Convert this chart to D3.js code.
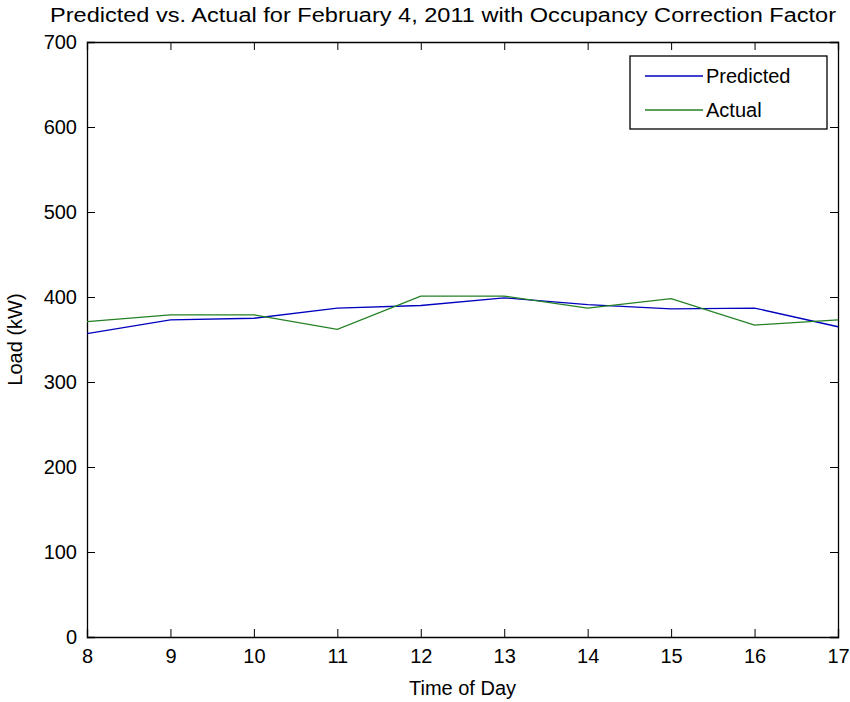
<!DOCTYPE html>
<html>
<head>
<meta charset="utf-8">
<script src="https://cdn.jsdelivr.net/npm/d3@7"></script>
<style>
  body { margin: 0; background: #fff; }
  text { font-family: "Liberation Sans Narrow", "Liberation Sans", Arial, sans-serif; fill: #000; }
  .axis path, .axis line { stroke: #000; }
</style>
</head>
<body>
<svg id="chart" width="850" height="702"></svg>
<script>
// hours of the day
var hours = [8, 9, 10, 11, 12, 13, 14, 15, 16, 17];
// load values in kW
var predicted = [357, 373, 375, 387, 390, 399, 391, 386, 387, 365];
var actual = [371, 379, 379, 362, 401, 401, 387, 398, 367, 373];
var yTicks = [0, 100, 200, 300, 400, 500, 600, 700];
var seriesNames = ["Predicted", "Actual"];
var seriesColors = ["#0000bf", "#238023"];

var svg = d3.select("#chart"),
    margin = { top: 42, right: 12, bottom: 65, left: 87 },
    width = +svg.attr("width") - margin.left - margin.right,
    height = +svg.attr("height") - margin.top - margin.bottom,
    g = svg.append("g").attr("transform", "translate(" + margin.left + "," + margin.top + ")");

var x = d3.scaleLinear().domain([8, 17]).range([0, width]);
var y = d3.scaleLinear().domain([0, 700]).range([height, 0]);

// axes, ticks pointing inward like matlab
g.append("g")
    .attr("class", "axis")
    .attr("transform", "translate(0," + height + ")")
    .call(d3.axisBottom(x).tickValues(hours).tickSize(-8).tickPadding(12).tickFormat(d3.format("d")))
    .call(function (a) { a.selectAll("text").style("font-size", "20px"); });

g.append("g")
    .attr("class", "axis")
    .call(d3.axisTop(x).tickValues(hours).tickSize(-8).tickFormat(""));

g.append("g")
    .attr("class", "axis")
    .call(d3.axisLeft(y).tickValues(yTicks).tickSize(-8).tickPadding(10))
    .call(function (a) { a.selectAll("text").style("font-size", "20px"); });

g.append("g")
    .attr("class", "axis")
    .attr("transform", "translate(" + width + ",0)")
    .call(d3.axisRight(y).tickValues(yTicks).tickSize(-8).tickFormat(""));

g.selectAll(".axis path").attr("stroke-width", 1.3);

var line = d3.line()
    .x(function (d, i) { return x(hours[i]); })
    .y(function (d) { return y(d); });

[predicted, actual].forEach(function (s, i) {
    g.append("path")
        .datum(s)
        .attr("fill", "none")
        .attr("stroke", seriesColors[i])
        .attr("stroke-width", 1.3)
        .attr("d", line);
});

// legend
var legend = g.append("g").attr("transform", "translate(" + (x(17) - 208) + ",14)");
legend.append("rect")
    .attr("width", 197)
    .attr("height", 73)
    .attr("fill", "#fff")
    .attr("stroke", "#000")
    .attr("stroke-width", 1.3);

seriesNames.forEach(function (name, i) {
    var ly = 20 + i * 34;
    legend.append("line")
        .attr("x1", 15).attr("x2", 73)
        .attr("y1", ly).attr("y2", ly)
        .attr("stroke", seriesColors[i])
        .attr("stroke-width", 1.3);
    legend.append("text")
        .attr("x", 76)
        .attr("y", ly)
        .attr("dy", "0.35em")
        .style("font-size", "20px")
        .text(name);
});

// title and axis labels
svg.append("text")
    .attr("x", 50)
    .attr("y", 22)
    .attr("textLength", 786)
    .attr("lengthAdjust", "spacingAndGlyphs")
    .style("font-size", "20px")
    .text("Predicted vs. Actual for February 4, 2011 with Occupancy Correction Factor");

svg.append("text")
    .attr("x", margin.left + width / 2)
    .attr("y", 695)
    .attr("text-anchor", "middle")
    .style("font-size", "20px")
    .text("Time of Day");

svg.append("text")
    .attr("transform", "translate(22," + (margin.top + height / 2) + ") rotate(-90)")
    .attr("text-anchor", "middle")
    .style("font-size", "20px")
    .text("Load (kW)");
</script>
</body>
</html>
